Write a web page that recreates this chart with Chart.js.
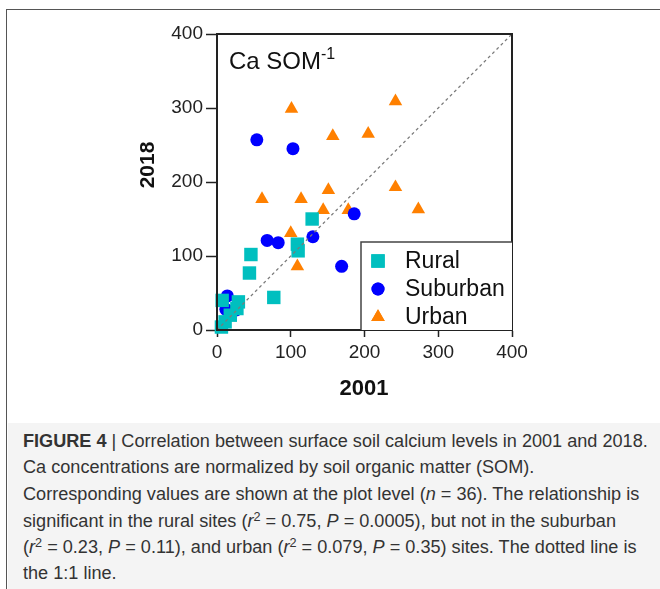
<!DOCTYPE html>
<html><head><meta charset="utf-8">
<script src="https://cdn.jsdelivr.net/npm/chart.js@4.4.1/dist/chart.umd.min.js"></script>
<style>
html,body{margin:0;padding:0;background:#fff;}
body{width:660px;height:589px;position:relative;overflow:hidden;font-family:"Liberation Sans",Arial,sans-serif;}
#cap{position:absolute;left:8px;top:423px;width:652px;height:166px;background:#f4f4f4;}
#frame{position:absolute;left:6px;top:9px;width:700px;height:700px;border-left:1.5px solid #555;border-top:1.5px solid #555;}
#wrap{position:absolute;left:0;top:0;width:660px;height:420px;}
.ln{position:absolute;left:23px;height:20px;line-height:20px;white-space:nowrap;color:#333;font-size:17px;}
.ln i{font-style:italic;}
.ln sup{font-size:0.7em;line-height:0;vertical-align:0.5em;}
</style></head>
<body>
<div id="cap"></div>
<div id="frame"></div>
<div id="wrap"><canvas id="c" width="660" height="420"></canvas></div>
<div class="ln" id="l1" style="top:431px"><b>FIGURE 4</b> | Correlation between surface soil calcium levels in 2001 and 2018.</div>
<div class="ln" style="top:457px">Ca concentrations are normalized by soil organic matter (SOM).</div>
<div class="ln" style="top:484px">Corresponding values are shown at the plot level (<i>n</i> = 36). The relationship is</div>
<div class="ln" style="top:511px">significant in the rural sites (<i>r</i><sup>2</sup> = 0.75, <i>P</i> = 0.0005), but not in the suburban</div>
<div class="ln" style="top:537px">(<i>r</i><sup>2</sup> = 0.23, <i>P</i> = 0.11), and urban (<i>r</i><sup>2</sup> = 0.079, <i>P</i> = 0.35) sites. The dotted line is</div>
<div class="ln" style="top:563px">the 1:1 line.</div>
<script>
// Data: [2001, 2018]
const rural = [[6,4],[11,11],[18,20],[27,29],[29,38],[7,40],[77,44],[44,77],[46,102],[109,116],[110,107],[129,150]];
const suburban = [[54,257],[103,245],[68,121],[83,118],[130,126],[186,157],[169,86],[14,46],[12,28],[26,27]];
const urban = [[101,299],[242,309],[157,262],[205,265],[61,177],[114,177],[151,189],[242,193],[144,162],[178,162],[273,163],[100,131],[109,86]];
const oneToOne = [[0,0],[400,400]];
const axisTicks = [0,100,200,300,400];
const seriesNames = ['Rural','Suburban','Urban'];
const colors = {Rural:'#00BFBF', Suburban:'#0000FF', Urban:'#FF8000'};
const styles = {Rural:['rect',9.5], Suburban:['circle',6.5], Urban:['triangle',7.8]};

// fit caption font
(function(){
  const l1=document.getElementById('l1');
  const w=l1.getBoundingClientRect().width;
  const fs=17*625/w;
  document.querySelectorAll('.ln').forEach(e=>e.style.fontSize=fs+'px');
})();

const toPts = a => a.map(([x,y])=>({x,y}));
const FONT = '"Liberation Sans", Arial, sans-serif';

const overlay = {
  id:'overlay',
  afterDatasetsDraw(chart){
    const {ctx, chartArea:a} = chart;
    ctx.save();
    ctx.strokeStyle='#222'; ctx.lineWidth=2;
    ctx.strokeRect(a.left, a.top, a.right-a.left, a.bottom-a.top);
    // Ca SOM-1
    ctx.fillStyle='#111'; ctx.textBaseline='alphabetic'; ctx.textAlign='left';
    ctx.font='24px '+FONT;
    ctx.fillText('Ca SOM', 229, 69);
    const w=ctx.measureText('Ca SOM').width;
    ctx.font='16px '+FONT;
    ctx.fillText('-1', 229+w, 59);
    // axis titles
    ctx.font='bold 22px '+FONT; ctx.textAlign='center'; ctx.textBaseline='middle';
    ctx.fillText('2001', 364, 389);
    ctx.save(); ctx.translate(148,165); ctx.rotate(-Math.PI/2);
    ctx.font='bold 21px '+FONT; ctx.fillText('2018',0,0); ctx.restore();
    // legend
    const lx=361, ly=242;
    ctx.fillStyle='#fff';
    ctx.fillRect(lx, ly, a.right-lx, a.bottom-ly);
    ctx.strokeStyle='#444'; ctx.lineWidth=1.5;
    ctx.beginPath(); ctx.moveTo(lx, a.bottom); ctx.lineTo(lx, ly); ctx.lineTo(a.right, ly); ctx.stroke();
    seriesNames.forEach((n,i)=>{
      const y=261+i*28;
      ctx.fillStyle=colors[n]; ctx.strokeStyle=colors[n];
      Chart.helpers.drawPoint(ctx,{pointStyle:styles[n][0], radius:styles[n][1], rotation:0, borderWidth:0}, 378, y);
      ctx.fill();
      ctx.fillStyle='#111'; ctx.font='23px '+FONT; ctx.textAlign='left'; ctx.textBaseline='middle';
      ctx.fillText(n, 405, y+1);
    });
    ctx.restore();
  }
};

const mk = n => {
  const d = n==='Rural'?rural:(n==='Suburban'?suburban:urban);
  return {label:n, data:toPts(d), pointStyle:styles[n][0], pointRadius:styles[n][1], pointHoverRadius:styles[n][1],
    backgroundColor:colors[n], borderColor:colors[n], pointBorderWidth:0, showLine:false, clip:false,
    order: seriesNames.indexOf(n)+1};
};

const tickFont = {family:FONT, size:19};
new Chart(document.getElementById('c'), {
  type:'scatter',
  data:{datasets:[
    {label:'1:1', data:toPts(oneToOne), showLine:true, pointRadius:0, borderColor:'#7a7a7a', borderWidth:1.3, borderDash:[3,3], order:0, clip:false},
    mk('Rural'), mk('Suburban'), mk('Urban')
  ]},
  options:{
    responsive:false, animation:false, devicePixelRatio:1,
    layout:{padding:{left:0, top:34, right:148, bottom:30}},
    plugins:{legend:{display:false}, tooltip:{enabled:false}},
    scales:{
      x:{type:'linear', min:0, max:400,
        afterBuildTicks(s){ s.ticks = axisTicks.map(v=>({value:v})); },
        ticks:{font:tickFont, color:'#222', padding:4, maxRotation:0},
        grid:{drawOnChartArea:false, tickLength:7, tickColor:'#222', tickWidth:1.5},
        border:{color:'#222', width:2},
        afterFit(s){ s.height=60; }},
      y:{type:'linear', min:0, max:400,
        afterBuildTicks(s){ s.ticks = axisTicks.map(v=>({value:v})); },
        ticks:{font:tickFont, color:'#222', padding:3},
        grid:{drawOnChartArea:false, tickLength:11, tickColor:'#222', tickWidth:1.5},
        border:{color:'#222', width:2},
        afterFit(s){ s.width=217; }}
    }
  },
  plugins:[overlay]
});
</script>
</body></html>
